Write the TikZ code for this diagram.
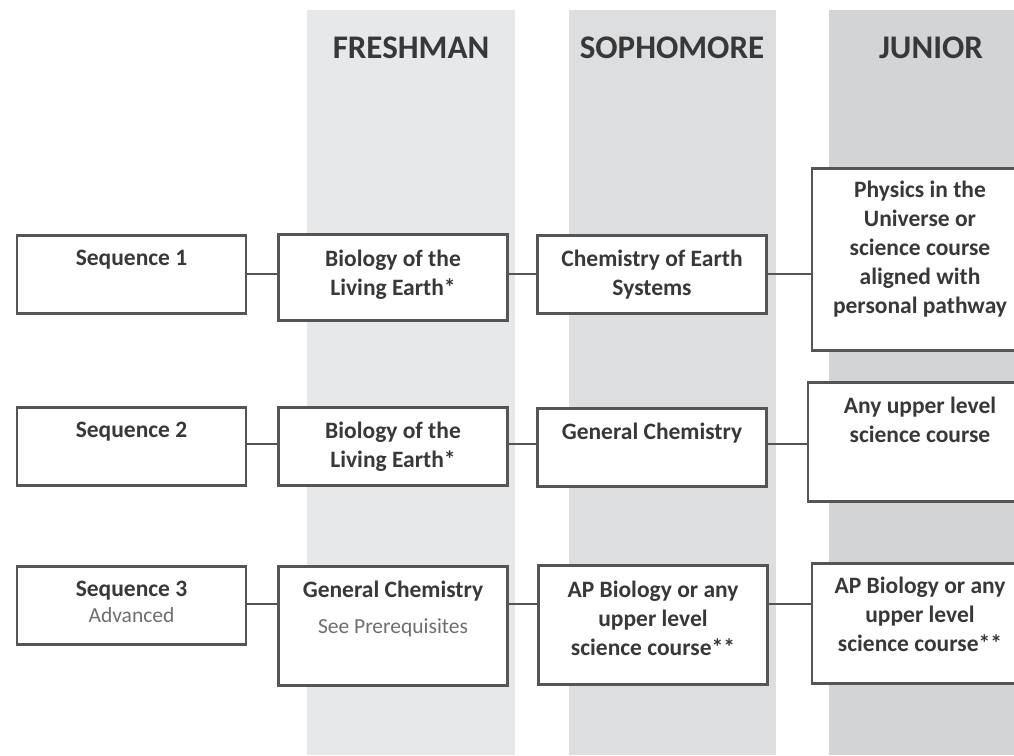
\documentclass[tikz,border=0pt]{standalone}
\usepackage{fontspec}
\setmainfont{Carlito}
\usepackage{xcolor}
\usetikzlibrary{positioning}

\definecolor{freshgray}{HTML}{E7E8EA}
\definecolor{sophgray}{HTML}{DDDEE0}
\definecolor{juniorgray}{HTML}{D3D4D6}
\definecolor{boxgray}{HTML}{555555}
\definecolor{textgray}{HTML}{383838}
\definecolor{notegray}{HTML}{6E6E6E}

\newcommand{\seqnote}[1]{{\color{notegray}\fontsize{21.5}{26}\selectfont\mdseries #1}}

\begin{document}
\begin{tikzpicture}[x=1pt,y=-1pt,
  head/.style={anchor=base, text=textgray, font=\fontsize{33}{40}\selectfont\bfseries},
  course/.style={draw=boxgray, fill=white, line width=2.5pt, inner sep=0pt, anchor=north, minimum width=229pt},
  txt/.style={inner sep=0pt, align=center, text=textgray, font=\fontsize{23.5}{29}\selectfont\bfseries},
  link/.style={draw=boxgray, line width=2.5pt}]

\useasboundingbox (0,0) rectangle (1014,755);
\clip (0,0) rectangle (1014,755);

% Draw the year columns
\fill[freshgray] (307,10) rectangle (515,755);
\fill[sophgray] (569,10) rectangle (776,755);
\fill[juniorgray] (829,10) rectangle (1034,755);

\node[head] (fresh) at (411,58) {FRESHMAN};
\node[head] (soph) at (672,58) {SOPHOMORE};
\node[head] (junior) at (931,58) {JUNIOR};

% Define the rows of connectors
\coordinate (r1) at (0,274);
\coordinate (r2) at (0,444);
\coordinate (r3) at (0,604);

% Sequence 1
\node[course, minimum height=78pt] (seqa) at (131.5,234) {};
\node[course, minimum height=86pt] (bioa) at (393,233) {};
\node[course, minimum height=78pt] (chema) at (652,234) {};
\node[course, minimum height=182pt, minimum width=216pt] (physa) at (920,167) {};

\node[txt, below=16pt of seqa.north] (seqa-t) {Sequence 1};
\node[txt, below=17pt of bioa.north] (bioa-t) {Biology of the\\Living Earth*};
\node[txt, below=16pt of chema.north] (chema-t) {Chemistry of Earth\\Systems};
\node[txt, below=14pt of physa.north] (physa-t) {Physics in the\\Universe or\\science course\\aligned with\\personal pathway};

% Sequence 2
\node[course, minimum height=78pt] (seqb) at (131.5,406) {};
\node[course, minimum height=78pt] (biob) at (393,406) {};
\node[course, minimum height=78pt] (chemb) at (652,407) {};
\node[course, minimum height=119pt, minimum width=224pt] (anyb) at (920,381) {};

\node[txt, below=16pt of seqb.north] (seqb-t) {Sequence 2};
\node[txt, below=16pt of biob.north] (biob-t) {Biology of the\\Living Earth*};
\node[txt, below=16pt of chemb.north] (chemb-t) {General Chemistry};
\node[txt, below=16pt of anyb.north] (anyb-t) {Any upper level\\science course};

% Sequence 3
\node[course, minimum height=78pt] (seqc) at (131.5,565) {};
\node[course, minimum height=119pt] (genc) at (393,565) {};
\node[course, minimum height=119pt] (apc) at (653,564) {};
\node[course, minimum height=120pt, minimum width=216pt] (apd) at (920,562) {};

\node[txt, below=16pt of seqc.north] (seqc-t) {Sequence 3\\[-3pt]\seqnote{Advanced}};
\node[txt, below=16pt of genc.north] (genc-t) {General Chemistry\\[7pt]\seqnote{See Prerequisites}};
\node[txt, below=17pt of apc.north] (apc-t) {AP Biology or any\\upper level\\science course**};
\node[txt, below=15pt of apd.north] (apd-t) {AP Biology or any\\upper level\\science course**};

% Draw the connectors
\draw[link] (seqa.east |- r1) -- (bioa.west |- r1);
\draw[link] (bioa.east |- r1) -- (chema.west |- r1);
\draw[link] (chema.east |- r1) -- (physa.west |- r1);
\draw[link] (seqb.east |- r2) -- (biob.west |- r2);
\draw[link] (biob.east |- r2) -- (chemb.west |- r2);
\draw[link] (chemb.east |- r2) -- (anyb.west |- r2);
\draw[link] (seqc.east |- r3) -- (genc.west |- r3);
\draw[link] (genc.east |- r3) -- (apc.west |- r3);
\draw[link] (apc.east |- r3) -- (apd.west |- r3);

\end{tikzpicture}
\end{document}
